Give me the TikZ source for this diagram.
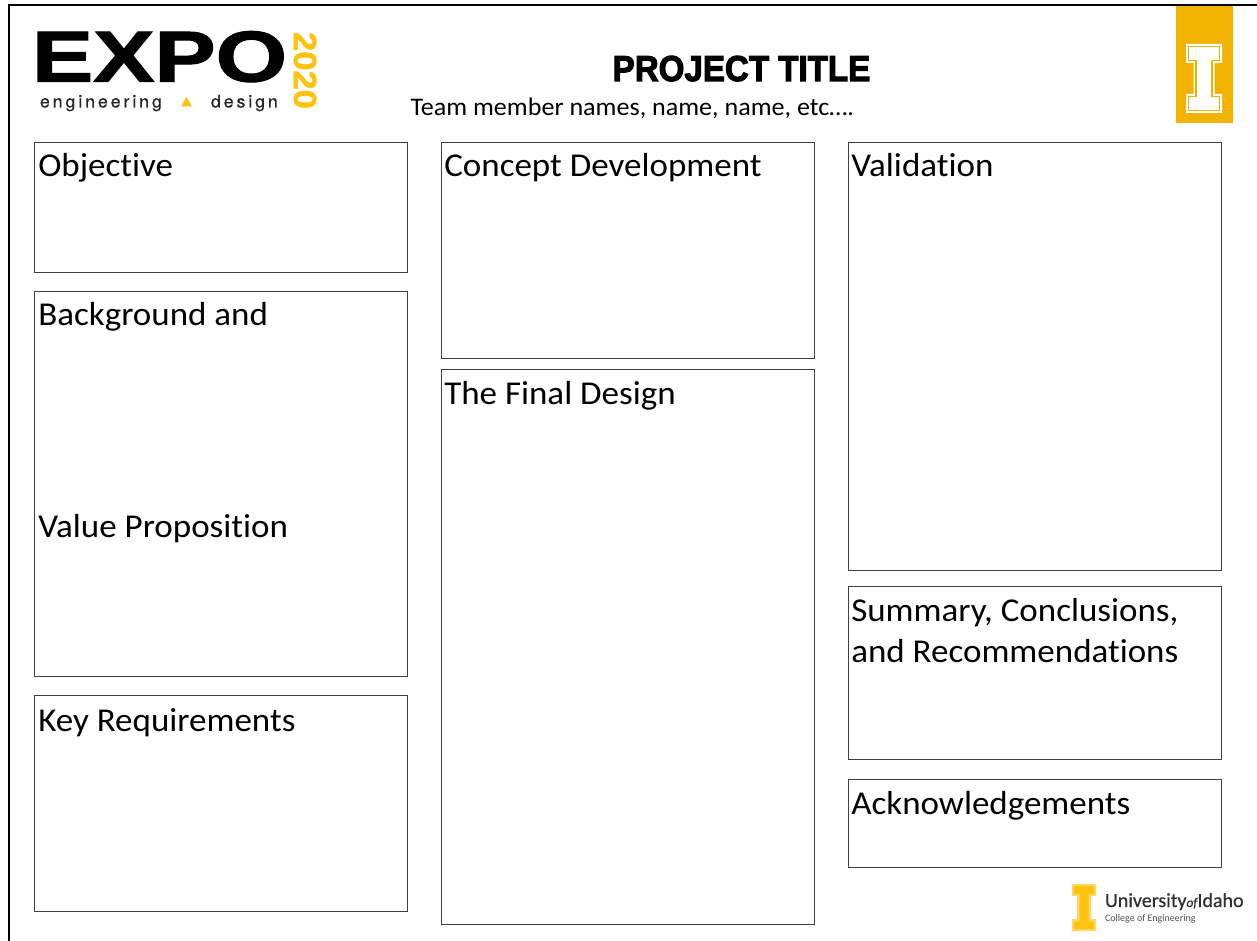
\documentclass[tikz,border=0pt]{standalone}
\usepackage{fontspec}
\usetikzlibrary{fit}
\setmainfont{Carlito}[Ligatures=NoCommon]
\newfontfamily\logoboldfont{Liberation Sans Bold}[FakeBold=1.5]
\newfontfamily\yearfont{Liberation Sans Bold}[FakeBold=1.5]
\newfontfamily\titlefont{Liberation Sans Bold}[FakeBold=3]
\newfontfamily\widefont{TeX Gyre Heros}[FakeBold=0.6]
\newfontfamily\unifont{Carlito}[FakeBold=0.5,Ligatures=NoCommon]
\definecolor{vandal}{HTML}{F1B300}
\definecolor{logogold}{HTML}{FFC20E}
\definecolor{logotext}{HTML}{2F2F2F}
\tikzset{
  panel/.style={draw=black!75,line width=0.7pt,inner sep=0pt,fill=white},
  head/.style={anchor=base west,inner sep=0pt,xscale=1.05,font=\fontsize{25}{28}\selectfont,text=black},
  frameline/.style={draw=black,line width=1.5pt},
  plain/.style={inner sep=0pt,outer sep=0pt},
}
% polygon of the block I: left, right, stem left, stem right, top, top serif bottom, bottom serif top, bottom
\newcommand{\blockI}[8]{(#1,#5) -- (#2,#5) -- (#2,#6) -- (#4,#6) -- (#4,#7) -- (#2,#7) -- (#2,#8) -- (#1,#8) -- (#1,#7) -- (#3,#7) -- (#3,#6) -- (#1,#6) -- cycle}
\begin{document}
\begin{tikzpicture}[x=0.75pt,y=-0.75pt]
\useasboundingbox (0,0) rectangle (1257,941);
\coordinate (tl) at (9,5);
\coordinate (tr) at (1257,5);
\coordinate (bl) at (9,941);
\draw[frameline] (tr) -- (tl) -- (bl);

% panels
\node[panel,fit={(34.5,142)(407.5,272.5)}] (objective) {};
\node[panel,fit={(34.5,291)(407.5,676.5)}] (background) {};
\node[panel,fit={(34.5,695.5)(407.5,911.5)}] (keyreq) {};
\node[panel,fit={(441.5,142)(814.5,358)}] (concept) {};
\node[panel,fit={(441.5,369.5)(814.5,924.5)}] (final) {};
\node[panel,fit={(848.5,142)(1221,570.5)}] (validation) {};
\node[panel,fit={(848.5,586)(1221,759)}] (summary) {};
\node[panel,fit={(848.5,779)(1221,867)}] (ack) {};

\node[head] (tobj) at (38,177) {Objective};
\node[head] (tbg) at (38,326) {Background and};
\node[head] (tvp) at (38,537) {Value Proposition};
\node[head] (tkey) at (38,731) {Key Requirements};
\node[head] (tcon) at (444,177) {Concept Development};
\node[head] (tfin) at (444,404) {The Final Design};
\node[head] (tval) at (851,177) {Validation};
\node[head] (tsum) at (851,621) {Summary, Conclusions,};
\node[head] (trec) at (851,662) {and Recommendations};
\node[head] (tack) at (851,814) {Acknowledgements};

% title
\node[plain,anchor=base,xscale=0.92] (title) at (741.5,81)
  {\fontsize{27}{30}\titlefont PROJECT TITLE};
\node[plain,anchor=base west,xscale=1.03,font=\fontsize{19}{22}\selectfont] (team) at (410.5,115.5) {Team member names, name, name, etc….};

% EXPO logo
\node[plain,anchor=base west,xscale=1.275] (expo) at (32,81.5)
  {\fontsize{54}{54}\logoboldfont EXPO};
\node[plain,anchor=base west,xscale=1.02,font=\fontsize{13}{15}\widefont,text=black!85] (eng) at (40,107.5) {e\,n\,g\,i\,n\,e\,e\,r\,i\,n\,g};
\node[plain,anchor=base west,xscale=1.02,font=\fontsize{13}{15}\widefont,text=black!85] (des) at (211,107.5) {d\,e\,s\,i\,g\,n};
\fill[logogold] (181,106.5) -- (192,106.5) -- (186.5,97) -- cycle;
\node[plain,rotate=-90,text=logogold] (yr) at (305,70.5)
  {\scalebox{1.08}[1]{\fontsize{24}{26}\yearfont 2020}};

% top right tab
\fill[vandal] (1175.5,6) rectangle (1232.5,123);
\fill[white] \blockI{1186}{1222}{1193.5}{1214.5}{44}{63}{94}{113};
\draw[vandal,line width=0.9pt] \blockI{1188.5}{1219.5}{1196}{1212}{46.5}{60.5}{96.5}{110.5};

% bottom logo
\fill[logogold!65] \blockI{1072}{1096}{1077}{1091}{884}{896}{919}{931};
\fill[logogold] \blockI{1074}{1094}{1079.5}{1088.5}{886}{893.5}{921.5}{929};
\node[plain,anchor=base west,font=\fontsize{15}{16}\unifont,text=logotext] (uni) at (1105,907)
  {University\fontsize{10}{12}\selectfont\itshape of\fontsize{15}{16}\selectfont\upshape Idaho};
\node[plain,anchor=base west,font=\fontsize{7.5}{10}\selectfont,text=logotext!85] (coe) at (1105,921) {College of Engineering};
\end{tikzpicture}
\end{document}
